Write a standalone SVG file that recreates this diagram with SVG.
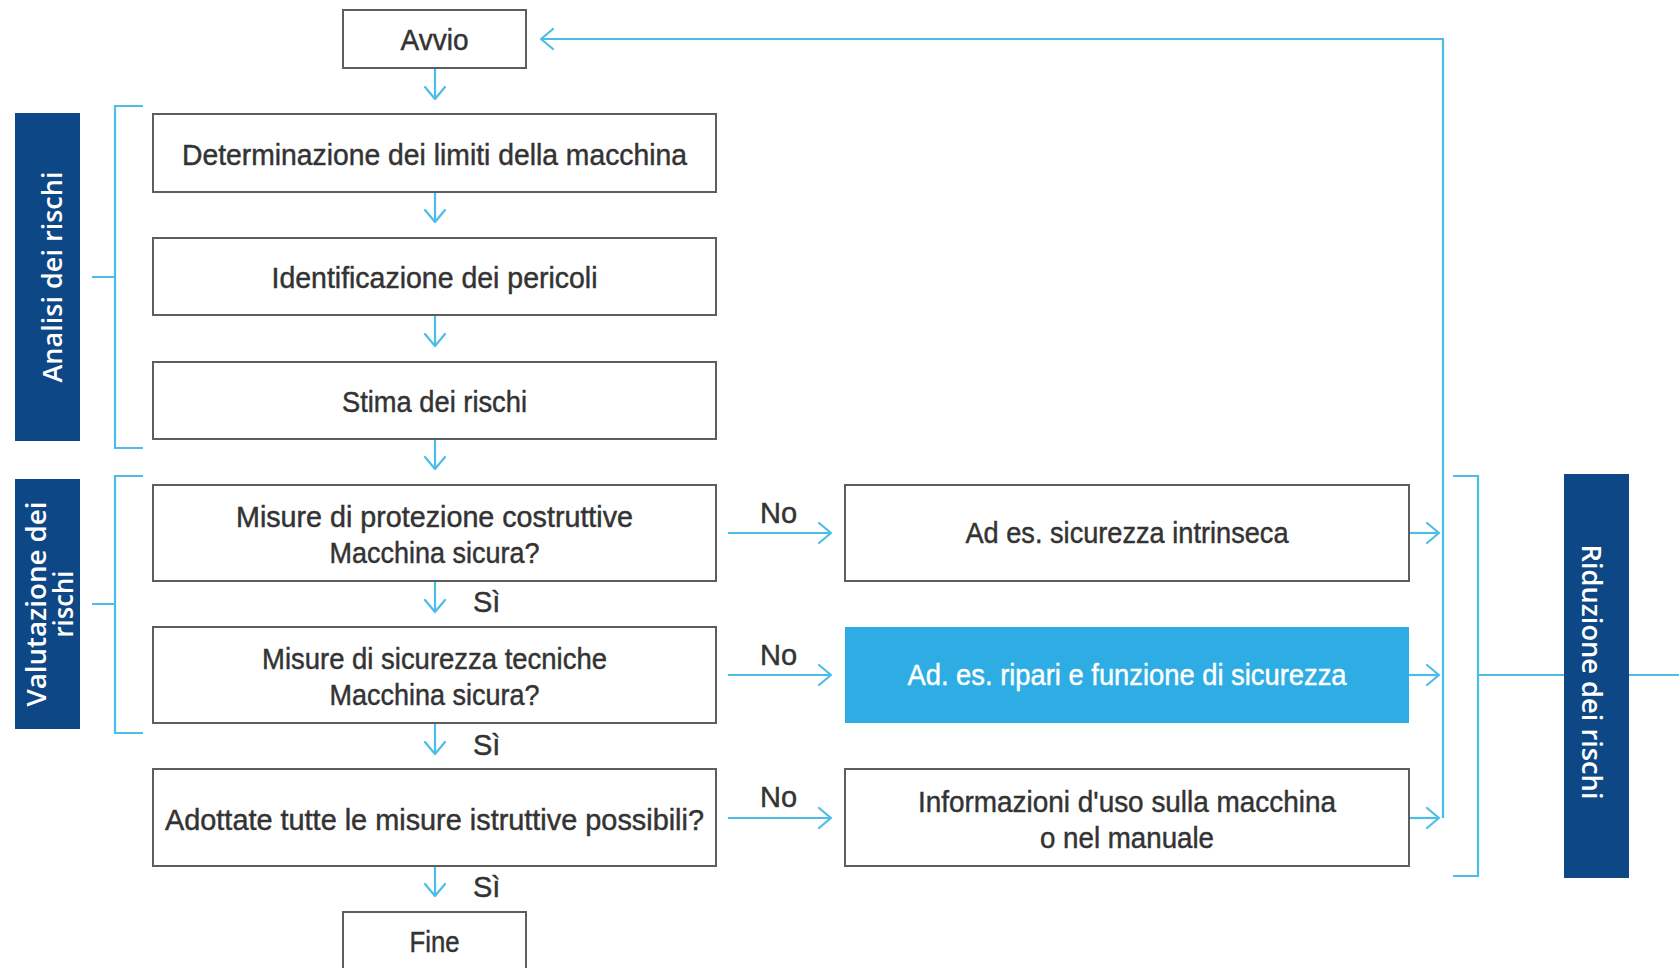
<svg xmlns="http://www.w3.org/2000/svg" width="1679" height="968" viewBox="0 0 1679 968">
<defs>
<style>
.box{fill:#ffffff;stroke:#5e5e5e;stroke-width:2}
.hl{fill:#2dade3;stroke:none}
.side{fill:#0e4785}
.t{font-family:"Liberation Sans",Arial,sans-serif;font-size:29px;fill:#333333;stroke:#333333;stroke-width:0.45;text-anchor:middle}
.tw{fill:#ffffff;stroke:#ffffff}
.lbl{font-family:"Liberation Sans",Arial,sans-serif;font-size:29px;fill:#333333;stroke:#333333;stroke-width:0.45}
.st{font-family:"Open Sans","DejaVu Sans",sans-serif;font-size:27px;font-weight:600;fill:#ffffff;text-anchor:middle}
.c{fill:none;stroke:#4cbde9;stroke-width:2.2}
</style>
<marker id="ah" markerUnits="userSpaceOnUse" markerWidth="30" markerHeight="30" viewBox="-15 -15 30 30" refX="0" refY="0" orient="auto">
<path d="M-12,-10 L0,0 L-12,10" fill="none" stroke="#4cbde9" stroke-width="2.2" stroke-linecap="round" stroke-linejoin="round"/>
</marker>
</defs>
<rect width="1679" height="968" fill="#ffffff"/>

<g id="side-analisi">
<rect class="side" x="15" y="113" width="65" height="328"/>
<text class="st" transform="translate(62,277) rotate(-90)" textLength="211" lengthAdjust="spacingAndGlyphs">Analisi dei rischi</text>
</g>
<g id="side-valutazione">
<rect class="side" x="15" y="479" width="65" height="250"/>
<text class="st" transform="translate(46,604) rotate(-90)" textLength="205" lengthAdjust="spacingAndGlyphs">Valutazione dei</text>
<text class="st" transform="translate(73,604) rotate(-90)" textLength="67" lengthAdjust="spacingAndGlyphs">rischi</text>
</g>
<g id="side-riduzione">
<rect class="side" x="1564" y="474" width="65" height="404"/>
</g>

<g id="connectors">
<path class="c" d="M143,106 H115 V448 H143 M92,277 H115"/>
<path class="c" d="M143,476 H115 V733 H143 M92,604 H115"/>
<path class="c" d="M1453,476 H1478 V876 H1453 M1478,675 H1564 M1629,675 H1679"/>
<path class="c" d="M435,68 V99" marker-end="url(#ah)"/>
<path class="c" d="M435,192 V222" marker-end="url(#ah)"/>
<path class="c" d="M435,315 V346" marker-end="url(#ah)"/>
<path class="c" d="M435,439 V469" marker-end="url(#ah)"/>
<path class="c" d="M435,581 V612" marker-end="url(#ah)"/>
<path class="c" d="M435,723 V754" marker-end="url(#ah)"/>
<path class="c" d="M435,866 V896" marker-end="url(#ah)"/>
<path class="c" d="M728,533 H831" marker-end="url(#ah)"/>
<path class="c" d="M728,675 H831" marker-end="url(#ah)"/>
<path class="c" d="M728,818 H831" marker-end="url(#ah)"/>
<path class="c" d="M1409,533 H1439" marker-end="url(#ah)"/>
<path class="c" d="M1409,675 H1439" marker-end="url(#ah)"/>
<path class="c" d="M1409,818 H1439" marker-end="url(#ah)"/>
<path class="c" d="M1443,818 V39 H541" marker-end="url(#ah)"/>
<text class="lbl" x="473" y="612">Sì</text>
<text class="lbl" x="473" y="755">Sì</text>
<text class="lbl" x="473" y="897">Sì</text>
<text class="lbl" x="760" y="523">No</text>
<text class="lbl" x="760" y="665">No</text>
<text class="lbl" x="760" y="807">No</text>
</g>

<g id="riduzione-label">
<text class="st" transform="translate(1582,672) rotate(90)" textLength="255" lengthAdjust="spacingAndGlyphs">Riduzione dei rischi</text>
</g>

<g id="avvio">
<rect class="box" x="343" y="10" width="183" height="58"/>
<text class="t" x="434.5" y="50" textLength="68" lengthAdjust="spacingAndGlyphs">Avvio</text>
</g>
<g id="determinazione">
<rect class="box" x="153" y="114" width="563" height="78"/>
<text class="t" x="434.5" y="165" textLength="505" lengthAdjust="spacingAndGlyphs">Determinazione dei limiti della macchina</text>
</g>
<g id="identificazione">
<rect class="box" x="153" y="238" width="563" height="77"/>
<text class="t" x="434.5" y="288" textLength="326" lengthAdjust="spacingAndGlyphs">Identificazione dei pericoli</text>
</g>
<g id="stima">
<rect class="box" x="153" y="362" width="563" height="77"/>
<text class="t" x="434.5" y="412" textLength="185" lengthAdjust="spacingAndGlyphs">Stima dei rischi</text>
</g>
<g id="protezione">
<rect class="box" x="153" y="485" width="563" height="96"/>
<text class="t" x="434.5" y="527" textLength="397" lengthAdjust="spacingAndGlyphs">Misure di protezione costruttive</text>
<text class="t" x="434.5" y="563" textLength="210" lengthAdjust="spacingAndGlyphs">Macchina sicura?</text>
</g>
<g id="sicurezza">
<rect class="box" x="153" y="627" width="563" height="96"/>
<text class="t" x="434.5" y="669" textLength="345" lengthAdjust="spacingAndGlyphs">Misure di sicurezza tecniche</text>
<text class="t" x="434.5" y="705" textLength="210" lengthAdjust="spacingAndGlyphs">Macchina sicura?</text>
</g>
<g id="istruttive">
<rect class="box" x="153" y="769" width="563" height="97"/>
<text class="t" x="434.5" y="830" textLength="539" lengthAdjust="spacingAndGlyphs">Adottate tutte le misure istruttive possibili?</text>
</g>
<g id="fine">
<rect class="box" x="343" y="912" width="183" height="70"/>
<text class="t" x="434.5" y="952" textLength="50" lengthAdjust="spacingAndGlyphs">Fine</text>
</g>
<g id="intrinseca">
<rect class="box" x="845" y="485" width="564" height="96"/>
<text class="t" x="1127" y="543" textLength="323" lengthAdjust="spacingAndGlyphs">Ad es. sicurezza intrinseca</text>
</g>
<g id="ripari">
<rect class="hl" x="845" y="627" width="564" height="96"/>
<text class="t tw" x="1127" y="685" textLength="439" lengthAdjust="spacingAndGlyphs">Ad. es. ripari e funzione di sicurezza</text>
</g>
<g id="informazioni">
<rect class="box" x="845" y="769" width="564" height="97"/>
<text class="t" x="1127" y="812" textLength="418" lengthAdjust="spacingAndGlyphs">Informazioni d'uso sulla macchina</text>
<text class="t" x="1127" y="848" textLength="174" lengthAdjust="spacingAndGlyphs">o nel manuale</text>
</g>
</svg>
